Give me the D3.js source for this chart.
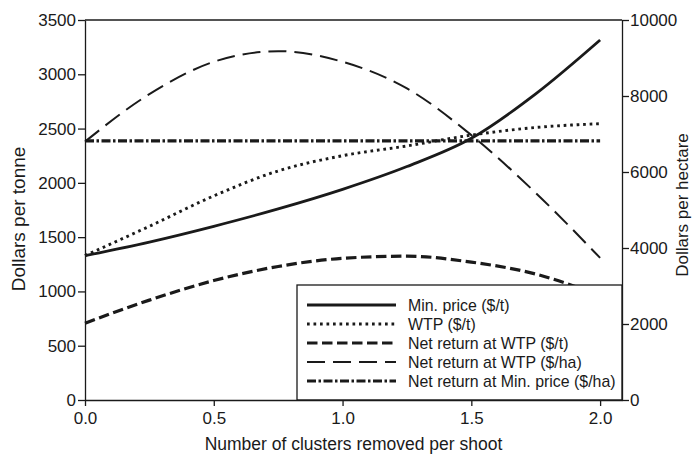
<!DOCTYPE html>
<html>
<head>
<meta charset="utf-8">
<script src="https://cdn.jsdelivr.net/npm/d3@7"></script>
<style>
  html, body { margin: 0; padding: 0; background: #fff; }
  svg { display: block; font-family: "Liberation Sans", Arial, Helvetica, sans-serif; }
</style>
</head>
<body>
<svg id="chart" width="693" height="456"></svg>
<script>
// ---- data ----
const clusters = [0, 0.25, 0.5, 0.75, 1.0, 1.25, 1.5, 1.75, 2.0];
const minPrice = [1330, 1455, 1600, 1760, 1940, 2150, 2410, 2820, 3316];      // $/t
const wtp = [1330, 1600, 1880, 2110, 2250, 2340, 2440, 2510, 2545];           // $/t
const netReturnWtpT = [707, 920, 1100, 1230, 1305, 1325, 1270, 1160, 960];    // $/t
const netReturnWtpHa = [6800, 8050, 8900, 9180, 8900, 8200, 6970, 5450, 3740]; // $/ha
const netReturnMinHa = [6820, 6820, 6820, 6820, 6820, 6820, 6820, 6820, 6820]; // $/ha
const xTicks = [0, 0.5, 1.0, 1.5, 2.0];
const yLeftTicks = [0, 500, 1000, 1500, 2000, 2500, 3000, 3500];
const yRightTicks = [0, 2000, 4000, 6000, 8000, 10000];
const seriesNames = ["Min. price ($/t)", "WTP ($/t)", "Net return at WTP ($/t)",
                     "Net return at WTP ($/ha)", "Net return at Min. price ($/ha)"];

// ---- layout ----
const L = 85, R = 622, T = 20, B = 400;
const svg = d3.select("#chart");
const ink = "#1a1a1a";

const x = d3.scaleLinear().domain([0, 2.085]).range([L, R]);
const yL = d3.scaleLinear().domain([0, 3500]).range([B, T]);
const yR = d3.scaleLinear().domain([0, 10000]).range([B, T]);

const styles = [
  { axis: yL, vals: minPrice, width: 2.8, dash: null },
  { axis: yL, vals: wtp, width: 2.9, dash: "2.7,3.8" },
  { axis: yL, vals: netReturnWtpT, width: 3.2, dash: "10.5,4.5" },
  { axis: yR, vals: netReturnWtpHa, width: 2.0, dash: "18,8" },
  { axis: yR, vals: netReturnMinHa, width: 3.2, dash: "9,2.5,2.5,2.5" }
];

// frame top line
svg.append("line").attr("x1", L).attr("x2", R).attr("y1", T).attr("y2", T)
  .attr("stroke", ink).attr("stroke-width", 1.3);

// lines
styles.forEach(s => {
  const line = d3.line()
    .x((d, i) => x(clusters[i]))
    .y(d => s.axis(d))
    .curve(d3.curveMonotoneX);
  svg.append("path").datum(s.vals)
    .attr("d", line)
    .attr("fill", "none")
    .attr("stroke", ink)
    .attr("stroke-width", s.width)
    .attr("stroke-dasharray", s.dash);
});

// legend
const lg = svg.append("g");
lg.append("rect").attr("x", 297).attr("y", 285).attr("width", R - 297).attr("height", B - 285)
  .attr("fill", "#fff").attr("stroke", ink).attr("stroke-width", 1.3);
seriesNames.forEach((name, i) => {
  const yy = 305 + i * 19;
  lg.append("line").attr("x1", 307).attr("x2", 396).attr("y1", yy).attr("y2", yy)
    .attr("stroke", ink).attr("stroke-width", styles[i].width)
    .attr("stroke-dasharray", styles[i].dash);
  lg.append("text").attr("x", 408).attr("y", yy + 5.5)
    .attr("font-size", 15.9).attr("fill", ink).text(name);
});

// axes
function styleAxis(g) {
  g.selectAll("path").attr("stroke", ink).attr("stroke-width", 1.3);
  g.selectAll("line").attr("stroke", ink).attr("stroke-width", 1.3);
  g.selectAll("text").attr("fill", ink).attr("font-size", 17)
    .attr("font-family", "Liberation Sans, Arial, sans-serif");
}
svg.append("g").attr("transform", `translate(0,${B})`)
  .call(d3.axisBottom(x).tickValues(xTicks).tickFormat(d3.format(".1f")).tickSize(6).tickSizeOuter(0).tickPadding(6))
  .call(styleAxis);
svg.append("g").attr("transform", `translate(${L},0)`)
  .call(d3.axisLeft(yL).tickValues(yLeftTicks).tickFormat(d3.format("d")).tickSize(7).tickSizeOuter(0).tickPadding(2))
  .call(styleAxis);
svg.append("g").attr("transform", `translate(${R},0)`)
  .call(d3.axisRight(yR).tickValues(yRightTicks).tickFormat(d3.format("d")).tickSize(7).tickSizeOuter(0).tickPadding(1))
  .call(styleAxis);

// titles
svg.append("text").attr("x", (L + R) / 2).attr("y", 450).attr("text-anchor", "middle")
  .attr("font-size", 17.5).attr("fill", ink).text("Number of clusters removed per shoot");
svg.append("text").attr("transform", "translate(25,219) rotate(-90)").attr("text-anchor", "middle")
  .attr("font-size", 19).attr("fill", ink).text("Dollars per tonne");
svg.append("text").attr("transform", "translate(688,205) rotate(-90)").attr("text-anchor", "middle")
  .attr("font-size", 17).attr("fill", ink).text("Dollars per hectare");
</script>
</body>
</html>
